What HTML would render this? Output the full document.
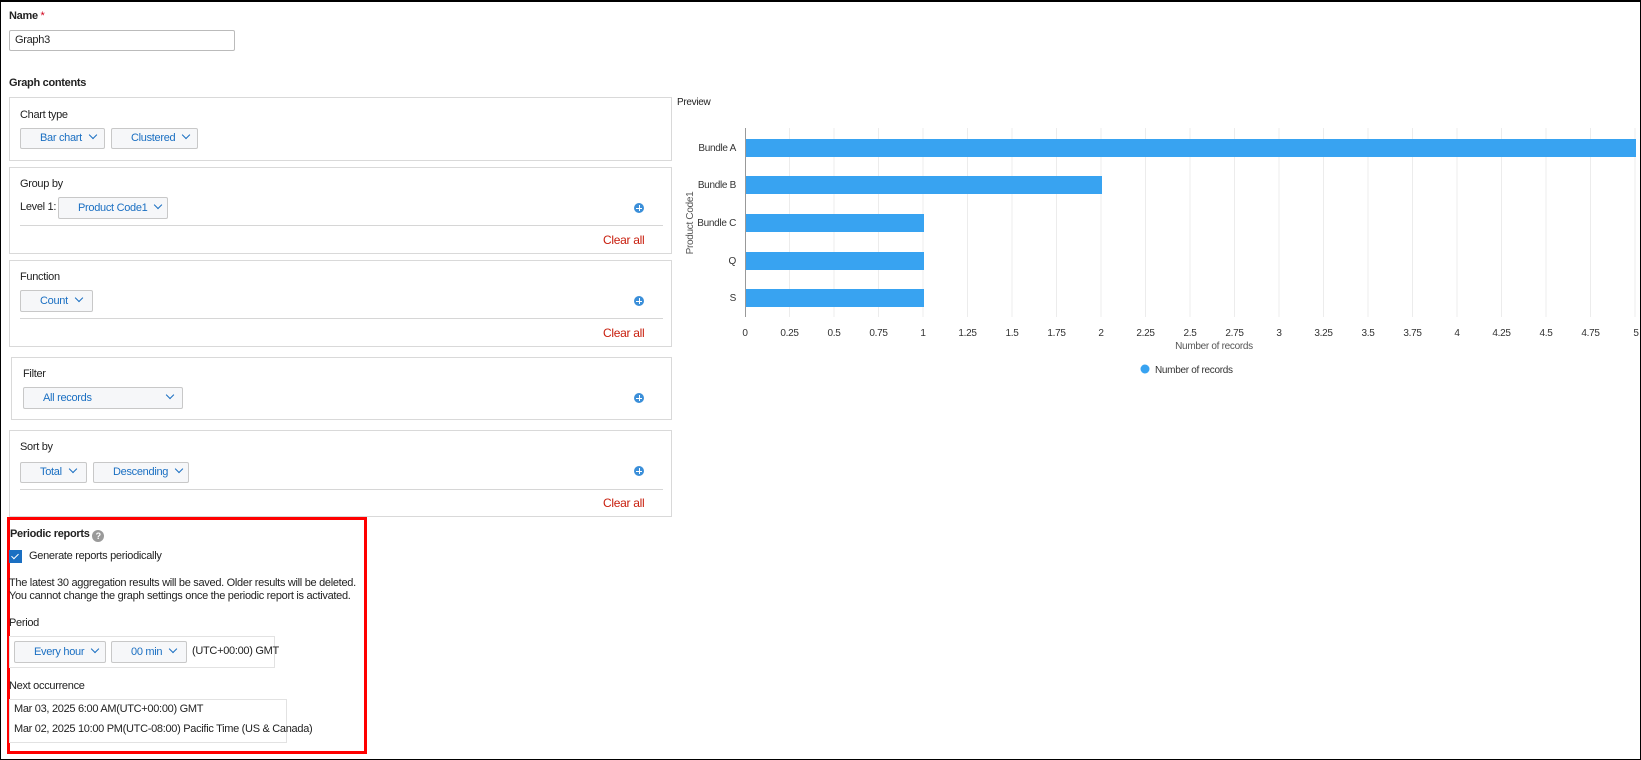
<!DOCTYPE html>
<html><head><meta charset="utf-8"><style>
*{box-sizing:border-box;margin:0;padding:0}
body{width:1641px;height:760px;position:relative;background:#fff;font-family:"Liberation Sans",Arial,sans-serif;font-size:11px;letter-spacing:-0.3px;color:#222;overflow:hidden}
.a{position:absolute;white-space:nowrap}
.frame{position:absolute;left:0;top:0;width:1641px;height:760px;border:1px solid #000;border-top-width:2px}
.box{position:absolute;border:1px solid #d9d9d9;background:#fff}
.btn{position:absolute;border:1px solid #c8c8c8;border-radius:2px;background:#f6f7f9;color:#1a6fc2;font-size:11px;line-height:19px;padding-left:19px;white-space:nowrap}
.btn .ch{display:inline-block;margin-left:8px;vertical-align:3px;width:6px;height:6px;border-right:1px solid #1a6fc2;border-bottom:1px solid #1a6fc2;transform:rotate(45deg)}
.plus{position:absolute;width:10px;height:10px;border-radius:50%;background:#3b8fd9}
.plus:before{content:"";position:absolute;left:2px;top:4.5px;width:6px;height:1px;background:#fff}
.plus:after{content:"";position:absolute;left:4.5px;top:2px;width:1px;height:6px;background:#fff}
.line{position:absolute;height:1px;background:#d6d6d6}
.clr{position:absolute;color:#c81d0c;font-size:12px}
.b{font-weight:bold;font-size:11px}
</style></head><body>
<div class="frame"></div>
<div class="a b" style="left:9px;top:10px">Name <span style="color:#d0021b;font-weight:normal">*</span></div>
<div class="box" style="left:9px;top:30px;width:226px;height:21px;border-color:#bbb;border-radius:2px;padding:3px 5px">Graph3</div>
<div class="a b" style="left:9px;top:77px">Graph contents</div>

<div class="box" style="left:9px;top:97px;width:663px;height:64px"></div>
<div class="a" style="left:20px;top:109px">Chart type</div>
<div class="btn" style="left:20px;top:128px;width:85px;height:21px">Bar chart<span class="ch"></span></div>
<div class="btn" style="left:111px;top:128px;width:87px;height:21px">Clustered<span class="ch"></span></div>

<div class="box" style="left:9px;top:167px;width:663px;height:87px"></div>
<div class="a" style="left:20px;top:178px">Group by</div>
<div class="a" style="left:20px;top:201px">Level 1:</div>
<div class="btn" style="left:58px;top:197px;width:110px;height:22px;line-height:20px">Product Code1<span class="ch"></span></div>
<div class="plus" style="left:634px;top:203px"></div>
<div class="line" style="left:20px;top:225px;width:643px"></div>
<div class="clr" style="left:603px;top:233px">Clear all</div>

<div class="box" style="left:9px;top:260px;width:663px;height:87px"></div>
<div class="a" style="left:20px;top:271px">Function</div>
<div class="btn" style="left:20px;top:290px;width:73px;height:22px;line-height:20px">Count<span class="ch"></span></div>
<div class="plus" style="left:634px;top:296px"></div>
<div class="line" style="left:20px;top:318px;width:643px"></div>
<div class="clr" style="left:603px;top:326px">Clear all</div>

<div class="box" style="left:11px;top:357px;width:661px;height:63px"></div>
<div class="a" style="left:23px;top:368px">Filter</div>
<div class="btn" style="left:23px;top:387px;width:160px;height:22px;line-height:20px">All records<span class="ch" style="margin-left:75px"></span></div>
<div class="plus" style="left:634px;top:393px"></div>

<div class="box" style="left:9px;top:430px;width:663px;height:87px"></div>
<div class="a" style="left:20px;top:441px">Sort by</div>
<div class="btn" style="left:20px;top:462px;width:67px;height:21px">Total<span class="ch"></span></div>
<div class="btn" style="left:93px;top:462px;width:96px;height:21px">Descending<span class="ch"></span></div>
<div class="plus" style="left:634px;top:466px"></div>
<div class="line" style="left:20px;top:489px;width:643px"></div>
<div class="clr" style="left:603px;top:496px">Clear all</div>

<div style="position:absolute;left:7px;top:517px;width:360px;height:237px;border:3px solid #f00"></div>
<div class="a b" style="left:10px;top:528px">Periodic reports <span style="display:inline-block;width:12px;height:12px;border-radius:50%;background:#9a9a9a;color:#fff;font-size:9px;text-align:center;line-height:12px;vertical-align:-2px;letter-spacing:0">?</span></div>
<div class="a" style="left:9px;top:550px;width:13px;height:13px;background:#1a6fc2"><span style="position:absolute;left:4px;top:2px;width:4px;height:7px;border-right:1.5px solid #fff;border-bottom:1.5px solid #fff;transform:rotate(45deg)"></span></div>
<div class="a" style="left:29px;top:550px">Generate reports periodically</div>
<div class="a" style="left:9px;top:577px">The latest 30 aggregation results will be saved. Older results will be deleted.</div>
<div class="a" style="left:9px;top:590px">You cannot change the graph settings once the periodic report is activated.</div>
<div class="a" style="left:9px;top:617px">Period</div>
<div class="box" style="left:9px;top:636px;width:266px;height:32px;border-color:#e2e2e2"></div>
<div class="btn" style="left:14px;top:641px;width:92px;height:22px;line-height:20px">Every hour<span class="ch"></span></div>
<div class="btn" style="left:111px;top:641px;width:76px;height:22px;line-height:20px">00 min<span class="ch"></span></div>
<div class="a" style="left:192px;top:645px">(UTC+00:00) GMT</div>
<div class="a" style="left:9px;top:680px">Next occurrence</div>
<div class="box" style="left:9px;top:699px;width:278px;height:44px;border-color:#e2e2e2"></div>
<div class="a" style="left:14px;top:703px">Mar 03, 2025 6:00 AM(UTC+00:00) GMT</div>
<div class="a" style="left:14px;top:723px">Mar 02, 2025 10:00 PM(UTC-08:00) Pacific Time (US &amp; Canada)</div>

<div class="a" style="left:677px;top:97px;font-size:10px">Preview</div>
<svg class="a" style="left:0;top:0" width="1641" height="760" font-family="Liberation Sans, Arial, sans-serif" font-size="10" fill="#333" letter-spacing="-0.3">
<g stroke="#ececec" stroke-width="1">
<line x1="789.5" y1="128" x2="789.5" y2="317"/><line x1="834" y1="128" x2="834" y2="317"/><line x1="878.5" y1="128" x2="878.5" y2="317"/><line x1="923" y1="128" x2="923" y2="317"/><line x1="967.5" y1="128" x2="967.5" y2="317"/><line x1="1012" y1="128" x2="1012" y2="317"/><line x1="1056.5" y1="128" x2="1056.5" y2="317"/><line x1="1101" y1="128" x2="1101" y2="317"/><line x1="1145.5" y1="128" x2="1145.5" y2="317"/><line x1="1190" y1="128" x2="1190" y2="317"/><line x1="1234.5" y1="128" x2="1234.5" y2="317"/><line x1="1279" y1="128" x2="1279" y2="317"/><line x1="1323.5" y1="128" x2="1323.5" y2="317"/><line x1="1368" y1="128" x2="1368" y2="317"/><line x1="1412.5" y1="128" x2="1412.5" y2="317"/><line x1="1457" y1="128" x2="1457" y2="317"/><line x1="1501.5" y1="128" x2="1501.5" y2="317"/><line x1="1546" y1="128" x2="1546" y2="317"/><line x1="1590.5" y1="128" x2="1590.5" y2="317"/><line x1="1635" y1="128" x2="1635" y2="317"/>
</g>
<line x1="745.5" y1="128" x2="745.5" y2="317" stroke="#999"/>
<g fill="#38a3f1">
<rect x="746" y="139" width="890" height="18"/><rect x="746" y="176" width="356" height="18"/><rect x="746" y="214" width="178" height="18"/><rect x="746" y="252" width="178" height="18"/><rect x="746" y="289" width="178" height="18"/>
</g>
<g text-anchor="end" font-size="10">
<text x="736" y="151">Bundle A</text><text x="736" y="188">Bundle B</text><text x="736" y="226">Bundle C</text><text x="736" y="264">Q</text><text x="736" y="301">S</text>
</g>
<g text-anchor="middle" font-size="10">
<text x="745" y="336">0</text><text x="789.5" y="336">0.25</text><text x="834" y="336">0.5</text><text x="878.5" y="336">0.75</text><text x="923" y="336">1</text><text x="967.5" y="336">1.25</text><text x="1012" y="336">1.5</text><text x="1056.5" y="336">1.75</text><text x="1101" y="336">2</text><text x="1145.5" y="336">2.25</text><text x="1190" y="336">2.5</text><text x="1234.5" y="336">2.75</text><text x="1279" y="336">3</text><text x="1323.5" y="336">3.25</text><text x="1368" y="336">3.5</text><text x="1412.5" y="336">3.75</text><text x="1457" y="336">4</text><text x="1501.5" y="336">4.25</text><text x="1546" y="336">4.5</text><text x="1590.5" y="336">4.75</text><text x="1636" y="336">5</text>
<text x="1214" y="349" fill="#555">Number of records</text>
<text transform="translate(693,223) rotate(-90)" fill="#555">Product Code1</text>
</g>
<circle cx="1145" cy="369" r="4.5" fill="#38a3f1"/>
<text x="1155" y="373" font-size="10">Number of records</text>
</svg>
</body></html>
